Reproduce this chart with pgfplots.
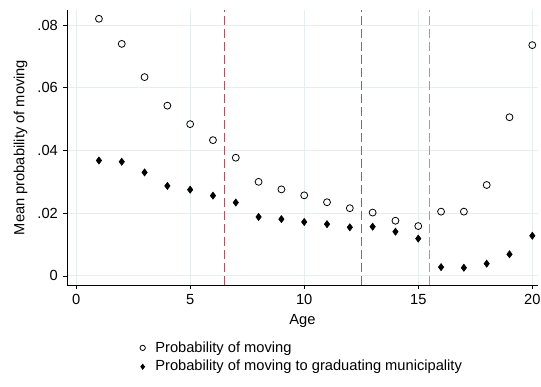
\documentclass[border=0pt]{standalone}
\usepackage{pgfplots}
\pgfplotsset{compat=1.18}
\usepackage{fontspec}
\setmainfont{Liberation Sans}
\definecolor{gridc}{RGB}{230,238,240}
\definecolor{lineA}{RGB}{185,80,90}
\definecolor{lineB}{RGB}{200,140,142}
\begin{document}
\begin{tikzpicture}
\fontsize{11}{13}\selectfont
\begin{axis}[
  name=ax,
  scale only axis,
  width=353.25pt, height=206.25pt,
  xmin=-0.4, xmax=20.25,
  ymin=-0.0029, ymax=0.0848,
  axis lines=left,
  axis line style={-, black, line width=0.6pt},
  xtick={0,5,10,15,20},
  ytick={0,0.02,0.04,0.06,0.08},
  yticklabels={0,.02,.04,.06,.08},
  scaled y ticks=false,
  /pgf/number format/assume math mode=true,
  tick align=outside,
  major tick length=3pt,
  tick style={black, line width=0.5pt},
  ticklabel style={font=\fontsize{11}{13}\selectfont},
  grid=major,
  major grid style={gridc, line width=0.8pt},
  xlabel={Age},
  ylabel={Mean probability of moving},
  label style={font=\fontsize{11}{13}\selectfont},
  xlabel style={yshift=0pt},
  ylabel style={yshift=0pt},
  clip=false,
  legend style={at={(0.146,-0.185)}, anchor=north west, draw=none, fill=none,
    font=\fontsize{11}{13}\selectfont, row sep=0.5pt,
    legend cell align=left,
    /tikz/every odd column/.append style={column sep=5.5pt}},
  legend image post style={mark size=2pt},
]
\addplot[draw=lineA, dash pattern=on 6.75pt off 3pt, line width=0.9pt, forget plot] coordinates {(6.5,-0.0029) (6.5,0.0848)};
\addplot[draw=lineA, dash pattern=on 6.75pt off 3pt, line width=0.9pt, forget plot] coordinates {(12.5,-0.0029) (12.5,0.0848)};
\addplot[draw=lineB, dash pattern=on 6.75pt off 3pt, line width=0.9pt, forget plot] coordinates {(15.5,-0.0029) (15.5,0.0848)};
\addplot[only marks, mark=o, mark size=2.6pt, mark options={black, fill=white, line width=0.6pt}] coordinates {
(1,0.0820) (2,0.0740) (3,0.0634) (4,0.0543) (5,0.0484) (6,0.0433) (7,0.0377)
(8,0.0300) (9,0.0276) (10,0.0257) (11,0.0235) (12,0.0216) (13,0.0202) (14,0.0176)
(15,0.0159) (16,0.0205) (17,0.0205) (18,0.0290) (19,0.0506) (20,0.0736)};
\addlegendentry{Probability of moving}
\addplot[only marks, mark=diamond*, mark size=2.7pt, mark options={black, fill=black}] coordinates {
(1,0.0368) (2,0.0364) (3,0.0330) (4,0.0287) (5,0.0275) (6,0.0256) (7,0.0234)
(8,0.0188) (9,0.0181) (10,0.0172) (11,0.0165) (12,0.0155) (13,0.0157) (14,0.0141)
(15,0.0119) (16,0.0028) (17,0.0026) (18,0.0039) (19,0.0069) (20,0.0128)};
\addlegendentry{Probability of moving to graduating municipality}
\end{axis}
\pgfresetboundingbox
\path (-50.25pt,-75.75pt) rectangle (355.5pt,213.75pt);
\end{tikzpicture}
\end{document}
